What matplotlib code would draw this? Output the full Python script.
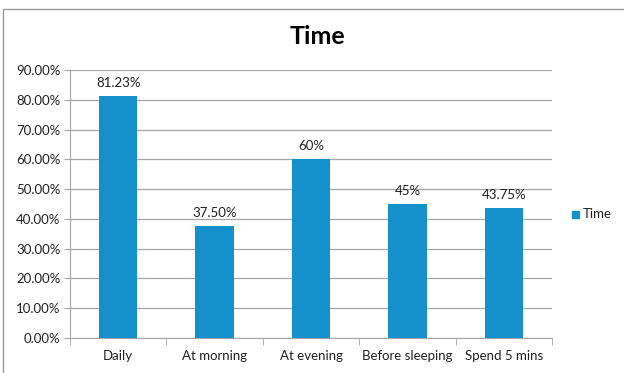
import matplotlib
matplotlib.use("Agg")
import matplotlib.pyplot as plt
from matplotlib.patches import Rectangle
from matplotlib.ticker import FuncFormatter, MultipleLocator

categories = ["Daily", "At morning", "At evening", "Before sleeping", "Spend 5 mins"]
values = [81.23, 37.50, 60.0, 45.0, 43.75]
value_labels = ["81.23%", "37.50%", "60%", "45%", "43.75%"]
series_name = "Time"

plt.rcParams["font.family"] = ["Lato", "DejaVu Sans"]
bar_color = "#1490CA"
grid_color = "#A6A6A6"

W, H = 624, 373
fig = plt.figure(figsize=(W / 100, H / 100), dpi=100)

# chart frame (runs off the right and bottom edges)
fig.patches.append(Rectangle((3 / W, -6 / H), (W + 5) / W, (H - 3) / H,
                             transform=fig.transFigure, fill=False,
                             edgecolor="#9A9A9A", linewidth=1.0))

ax = fig.add_axes([70 / W, (H - 338) / H, (552 - 70) / W, (338 - 70) / H])
x = list(range(len(categories)))
ax.bar(x, values, width=0.4, color=bar_color, zorder=3)
for xi, v, lab in zip(x, values, value_labels):
    ax.annotate(lab, (xi, v), xytext=(0, 5), textcoords="offset points",
                ha="center", va="bottom", fontsize=9.5, color="#202020")

ax.set_xlim(-0.5, len(categories) - 0.5)
ax.set_ylim(0, 90)
ax.yaxis.set_major_locator(MultipleLocator(10))
ax.yaxis.set_major_formatter(FuncFormatter(lambda v, p: f"{v:.2f}%"))
ax.grid(axis="y", color=grid_color, linewidth=0.9, zorder=0)
ax.set_xticks(x)
ax.set_xticklabels(categories)
ax.set_xticks([i - 0.5 for i in range(len(categories) + 1)], minor=True)
ax.tick_params(axis="x", which="major", length=0, pad=9, labelsize=9.5,
               labelcolor="#202020")
ax.tick_params(axis="x", which="minor", length=5, color=grid_color)
ax.tick_params(axis="y", length=4, color=grid_color, labelsize=9.5,
               labelcolor="#202020", pad=3)
for side in ["top", "right"]:
    ax.spines[side].set_visible(False)
ax.spines["left"].set_color(grid_color)
ax.spines["bottom"].set_color(grid_color)

fig.text(317 / W, 1 - 37 / H, "Time", ha="center", va="center",
         fontsize=18, fontweight="bold", color="black")

# legend
fig.patches.append(Rectangle((572 / W, 1 - 218 / H), 7 / W, 7 / H,
                             transform=fig.transFigure, color=bar_color))
fig.text(583 / W, 1 - 214 / H, series_name, ha="left", va="center",
         fontsize=9.5, color="#202020")

fig.savefig("out.png", dpi=100)
